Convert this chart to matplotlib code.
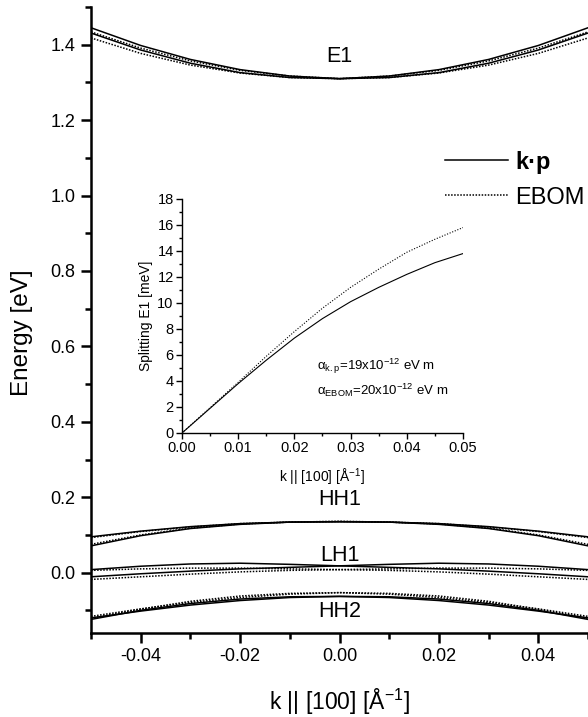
import numpy as np
import matplotlib
matplotlib.use("Agg")
import matplotlib.pyplot as plt
from matplotlib.ticker import MultipleLocator
from matplotlib.lines import Line2D

plt.rcParams['font.family'] = ['Liberation Sans', 'DejaVu Sans']
plt.rcParams['mathtext.default'] = 'regular'

# main panel: k along [100] (1/A) and subband energies (eV)
k = [-0.05, -0.04, -0.03, -0.02, -0.01, 0.0, 0.01, 0.02, 0.03, 0.04, 0.05]

e1_kp = [1.431, 1.386, 1.351, 1.326, 1.313, 1.310, 1.317, 1.334, 1.361, 1.398, 1.445]
e1_ebom = [1.418, 1.377, 1.346, 1.325, 1.313, 1.310, 1.317, 1.332, 1.357, 1.391, 1.434]

hh1_kp = [0.095, 0.110, 0.122, 0.130, 0.134, 0.135, 0.134, 0.128, 0.117, 0.098, 0.071]
hh1_ebom = [0.093, 0.109, 0.121, 0.130, 0.134, 0.136, 0.134, 0.129, 0.118, 0.100, 0.075]

lh1_kp = [0.008, 0.017, 0.023, 0.025, 0.022, 0.018, 0.014, 0.010, 0.004, -0.003, -0.011]
lh1_ebom = [0.006, 0.010, 0.012, 0.012, 0.010, 0.008, 0.006, 0.002, -0.004, -0.011, -0.018]

hh2_kp = [-0.120, -0.102, -0.086, -0.074, -0.066, -0.063, -0.064, -0.070, -0.082, -0.100, -0.124]
hh2_ebom = [-0.116, -0.096, -0.079, -0.066, -0.057, -0.053, -0.055, -0.062, -0.076, -0.097, -0.121]

band_names = ['E1', 'HH1', 'LH1', 'HH2']
band_label_y = [1.368, 0.195, 0.045, -0.103]

# inset: E1 spin splitting (meV)
k_in = [0.0, 0.005, 0.01, 0.015, 0.02, 0.025, 0.03, 0.035, 0.04, 0.045, 0.05]
split_kp = [0.0, 1.9, 3.8, 5.6, 7.3, 8.8, 10.1, 11.2, 12.2, 13.1, 13.8]
split_ebom = [0.0, 1.95, 3.9, 5.9, 7.8, 9.6, 11.2, 12.6, 13.9, 14.9, 15.8]

fig = plt.figure(figsize=(5.88, 7.17), dpi=100)
ax = fig.add_axes([0.1548, 0.1172, 0.8452, 0.873])

solid = dict(color='black', lw=1.1, ls='-')
dots = dict(color='black', lw=1.1, ls=(0, (1, 1)))

for kp_vals, eb_vals in [(e1_kp, e1_ebom), (hh1_kp, hh1_ebom),
                         (lh1_kp, lh1_ebom), (hh2_kp, hh2_ebom)]:
    # the two spin branches mirror each other in k
    ax.plot(k, kp_vals, **solid)
    ax.plot(k, kp_vals[::-1], **solid)
    ax.plot(k, eb_vals, **dots)
    ax.plot(k, eb_vals[::-1], **dots)

for name, yy in zip(band_names, band_label_y):
    ax.text(0.0, yy, name, ha='center', va='center', fontsize=15.5)

ax.set_xlim(-0.05, 0.05)
ax.set_ylim(-0.16, 1.5)
ax.xaxis.set_major_locator(MultipleLocator(0.02))
ax.xaxis.set_minor_locator(MultipleLocator(0.01))
ax.yaxis.set_major_locator(MultipleLocator(0.2))
ax.yaxis.set_minor_locator(MultipleLocator(0.1))
ax.set_xticks([-0.04, -0.02, 0.0, 0.02, 0.04])
ax.set_xticklabels(['-0.04', '-0.02', '0.00', '0.02', '0.04'])
ax.set_yticks([0.0, 0.2, 0.4, 0.6, 0.8, 1.0, 1.2, 1.4])
ax.set_yticklabels(['0.0', '0.2', '0.4', '0.6', '0.8', '1.0', '1.2', '1.4'])
for s in ['top', 'right']:
    ax.spines[s].set_visible(False)
for s in ['left', 'bottom']:
    ax.spines[s].set_linewidth(1.8)
ax.tick_params(which='major', direction='out', length=7, width=1.8, labelsize=13, pad=4)
ax.tick_params(which='minor', direction='out', length=4, width=1.8)
ax.set_xlabel(r'k || [100] [Å$^{-1}$]', fontsize=16.5)
ax.set_ylabel('Energy [eV]', fontsize=17.5)
ax.xaxis.set_label_coords(0.5, -0.086)
ax.yaxis.set_label_coords(-0.117, 0.479)

handles = [Line2D([], [], **solid), Line2D([], [], **dots)]
leg = ax.legend(handles, ['k·p', 'EBOM'], loc='upper left', frameon=False,
                bbox_to_anchor=(445 / 588, 0.79), bbox_transform=fig.transFigure,
                borderpad=0, borderaxespad=0, fontsize=17, handlelength=2.67,
                handletextpad=0.3, labelspacing=0.55)
leg.get_texts()[0].set_fontweight('bold')

# inset
ax_in = fig.add_axes([0.3095, 0.3961, 0.4779, 0.3264])
ax_in.plot(k_in, split_kp, color='black', lw=0.8)
ax_in.plot(k_in, split_ebom, color='black', lw=0.8, ls=(0, (1, 1.5)))
ax_in.set_xlim(0, 0.05)
ax_in.set_ylim(0, 18)
ax_in.xaxis.set_major_locator(MultipleLocator(0.01))
ax_in.xaxis.set_minor_locator(MultipleLocator(0.005))
ax_in.yaxis.set_major_locator(MultipleLocator(2))
ax_in.yaxis.set_minor_locator(MultipleLocator(1))
ax_in.set_xticks([0.0, 0.01, 0.02, 0.03, 0.04, 0.05])
ax_in.set_xticklabels(['0.00', '0.01', '0.02', '0.03', '0.04', '0.05'])
for s in ['top', 'right']:
    ax_in.spines[s].set_visible(False)
for s in ['left', 'bottom']:
    ax_in.spines[s].set_linewidth(1.0)
ax_in.tick_params(which='major', direction='out', length=4, width=1.0, labelsize=10.5, pad=2)
ax_in.tick_params(which='minor', direction='out', length=2.5, width=1.0)
ax_in.set_xlabel(r'k || [100] [Å$^{-1}$]', fontsize=10)
ax_in.set_ylabel('Splitting E1 [meV]', fontsize=10)
ax_in.xaxis.set_label_coords(0.5, -0.145)
ax_in.yaxis.set_label_coords(-0.103, 0.5)
ax_in.text(0.024, 5.1, r'$\alpha_{k.p}$=19x10$^{-12}$ eV m', fontsize=9.5, va='center')
ax_in.text(0.024, 3.3, r'$\alpha_{EBOM}$=20x10$^{-12}$ eV m', fontsize=9.5, va='center')

fig.savefig('out.png', dpi=100)
